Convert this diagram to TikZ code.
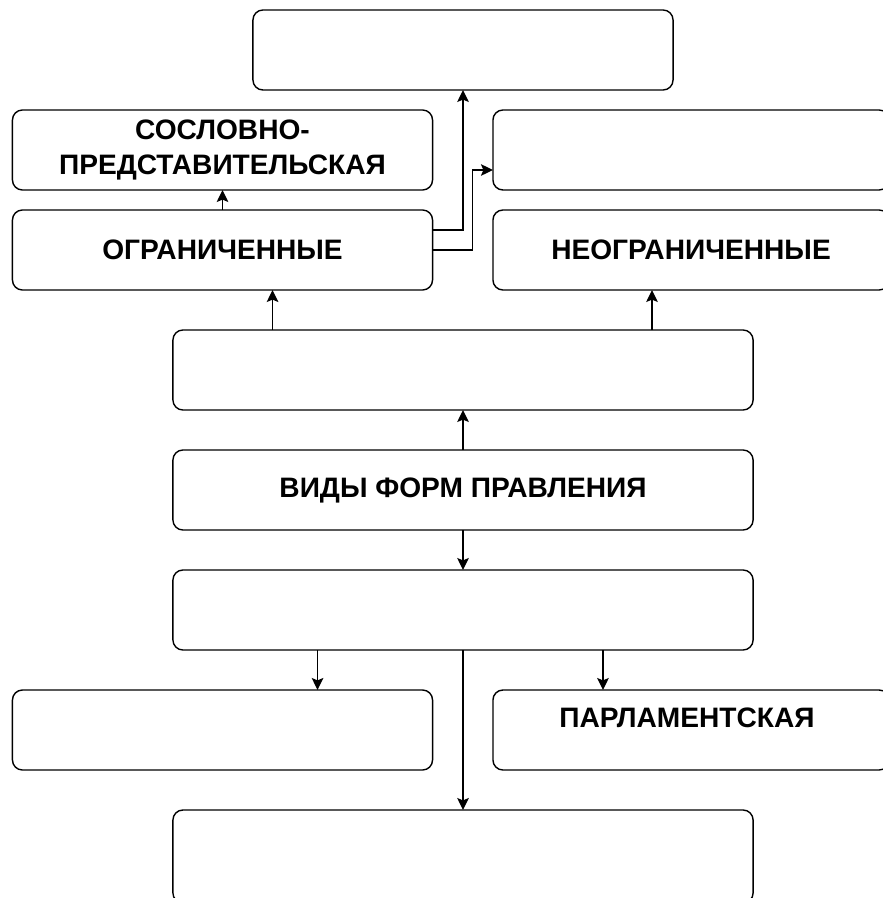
\documentclass[tikz,border=0pt]{standalone}
\usepackage{fontspec}
\setmainfont{Liberation Sans}
\usetikzlibrary{arrows.meta}

\tikzset{
  nadpis/.style={font=\fontsize{20}{25}\selectfont\bfseries, align=center},
  blok/.style={draw, nadpis, rounded corners=0.25cm, line width=1pt,
    minimum width=10.5cm, minimum height=2cm, inner sep=0pt, outer sep=0pt},
  shirokij/.style={blok, minimum width=14.5cm},
  pravyj/.style={blok, minimum width=9.9cm},
  strelka/.style={line width=1pt, -{Stealth[length=3mm, width=2.9mm, inset=0.6mm]}}
}

\begin{document}
\begin{tikzpicture}[x=0.025cm, y=-0.025cm]
\useasboundingbox (0,0) rectangle (882,898);

\node[blok] (verh) at (463,50) {};
\node[blok] (soslov) at (222.5,150) {СОСЛОВНО-\\ПРЕДСТАВИТЕЛЬСКАЯ};
\node[pravyj] (pusto) at (691,150) {};
\node[blok] (ogr) at (222.5,250) {ОГРАНИЧЕННЫЕ};
\node[pravyj] (neogr) at (691,250) {НЕОГРАНИЧЕННЫЕ};
\node[shirokij] (monarh) at (463,370) {};
\node[shirokij] (vidy) at (463,490) {ВИДЫ ФОРМ ПРАВЛЕНИЯ};
\node[shirokij] (respub) at (463,610) {};
\node[blok] (levyj) at (222.5,730) {};
\node[pravyj] (parl) at (691,730) {};
\node[nadpis] (parltxt) at ([xshift=-0.1cm, yshift=-0.7cm]parl.north) {ПАРЛАМЕНТСКАЯ};
\node[shirokij, minimum height=2.325cm] (niz) at (463,856.5) {};

\draw[strelka] (vidy.north) -- (monarh.south);
\draw[strelka] (vidy.south) -- (respub.north);

\coordinate (a1) at ([xshift=1.25cm]ogr.south);
\draw[strelka] (monarh.north -| a1) -- (a1);
\coordinate (a2) at ([xshift=-0.975cm]neogr.south);
\draw[strelka] (monarh.north -| a2) -- (a2);

\draw[strelka] (ogr.north) -- (soslov.south);
\draw[strelka] ([yshift=0.5cm]ogr.east) -| (verh.south);
\draw[strelka] (ogr.east) -- ++(1cm,0) |- ([yshift=-0.5cm]pusto.west);

\coordinate (b1) at ([xshift=2.375cm]levyj.north);
\draw[strelka] (respub.south -| b1) -- (b1);
\coordinate (b2) at ([xshift=-2.2cm]parl.north);
\draw[strelka] (respub.south -| b2) -- (b2);
\draw[strelka] (respub.south) -- (niz.north);
\end{tikzpicture}
\end{document}
